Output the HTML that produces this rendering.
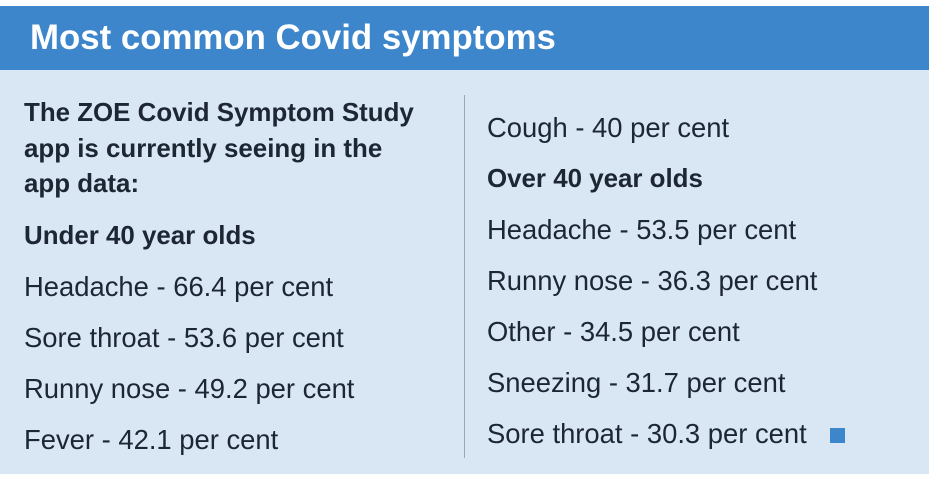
<!DOCTYPE html>
<html><head><meta charset="utf-8"><style>
html,body{margin:0;padding:0;background:#fff;width:933px;height:477px;overflow:hidden}
.panel{position:absolute;left:0;top:6px;width:929px;height:468px;background:#d9e6f4}
.hdr{position:absolute;left:0;top:6px;width:929px;height:64px;background:#3d86cb}
.t{position:absolute;font-family:"Liberation Sans",sans-serif;white-space:nowrap;line-height:30px;font-size:27.4px;color:#1d2633}
.b{font-weight:bold;font-size:25.9px}
.title{position:absolute;left:30px;top:18px;font-family:"Liberation Sans",sans-serif;font-weight:bold;font-size:34.8px;color:#fff;line-height:40px}
.div{position:absolute;left:464px;top:95px;width:1px;height:363px;background:#9aa7b5}
.sq{position:absolute;left:830px;top:428px;width:15px;height:15px;background:#3d86cb}
</style></head><body>
<div class="panel"></div><div class="hdr"></div>
<div class="title">Most common Covid symptoms</div>
<div class="div"></div>
<div class="t b" style="left:24px;top:98px">The ZOE Covid Symptom Study</div>
<div class="t b" style="left:24px;top:134px">app is currently seeing in the</div>
<div class="t b" style="left:24px;top:169px">app data:</div>
<div class="t b" style="left:24px;top:221px">Under 40 year olds</div>
<div class="t" style="left:24px;top:272px">Headache - 66.4 per cent</div>
<div class="t" style="left:24px;top:323px">Sore throat - 53.6 per cent</div>
<div class="t" style="left:24px;top:374px">Runny nose - 49.2 per cent</div>
<div class="t" style="left:24px;top:425px">Fever - 42.1 per cent</div>
<div class="t" style="left:487px;top:113px">Cough - 40 per cent</div>
<div class="t b" style="left:487px;top:164px">Over 40 year olds</div>
<div class="t" style="left:487px;top:215px">Headache - 53.5 per cent</div>
<div class="t" style="left:487px;top:266px">Runny nose - 36.3 per cent</div>
<div class="t" style="left:487px;top:317px">Other - 34.5 per cent</div>
<div class="t" style="left:487px;top:368px">Sneezing - 31.7 per cent</div>
<div class="t" style="left:487px;top:419px">Sore throat - 30.3 per cent</div>
<div class="sq"></div>
</body></html>
